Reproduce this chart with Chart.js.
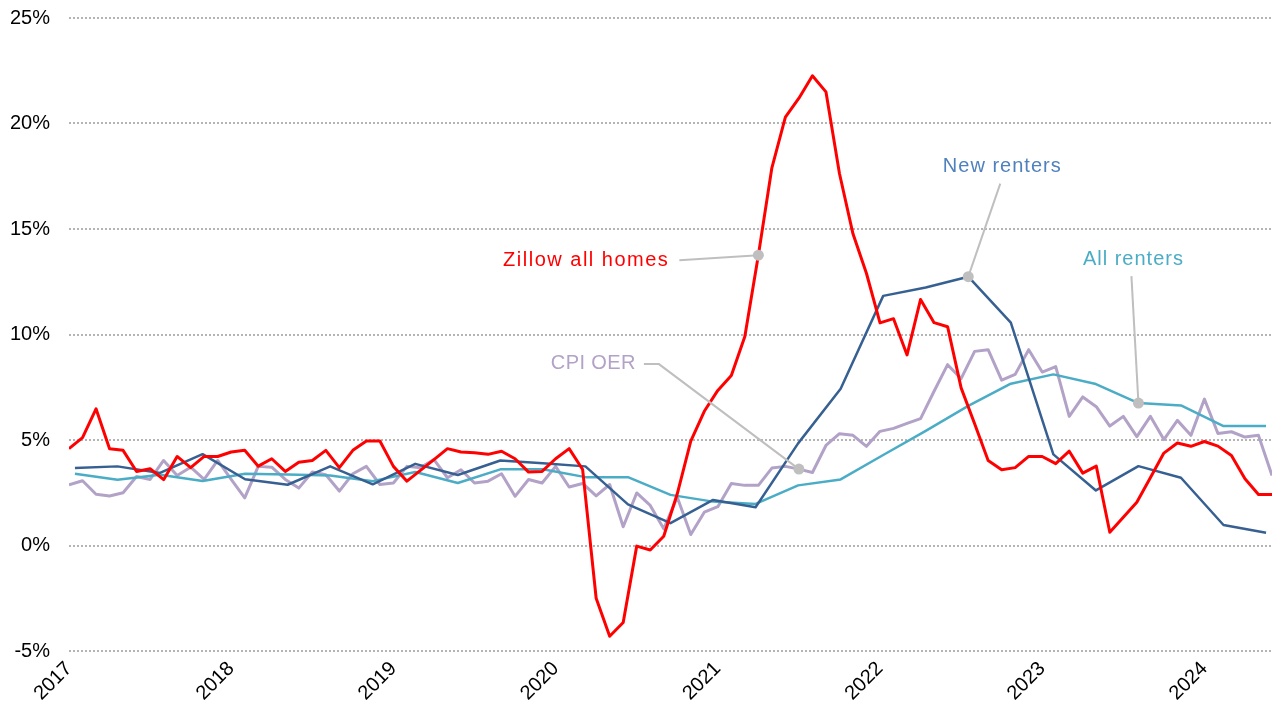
<!DOCTYPE html>
<html>
<head>
<meta charset="utf-8">
<title>Rent inflation</title>
<script src="https://cdn.jsdelivr.net/npm/chart.js@4.4.1/dist/chart.umd.min.js"></script>
<style>
  html, body { margin: 0; padding: 0; background: #fff; }
  canvas { display: block; }
</style>
</head>
<body>
<canvas id="rent-chart" width="1276" height="709"></canvas>
<script>
// Year labels on the month axis (month 0 = Jan 2017)
const yearLabels = ['2017', '2018', '2019', '2020', '2021', '2022', '2023', '2024'];

// Monthly series, Jan 2017 onward (% change)
const zillowAllHomes = [
  4.59, 5.11, 6.48, 4.59, 4.51, 3.51, 3.64, 3.12, 4.22, 3.69, 4.22, 4.22,
  4.43, 4.51, 3.76, 4.11, 3.51, 3.95, 4.03, 4.51, 3.69, 4.51, 4.95, 4.95,
  3.75, 3.05, 3.56, 4.07, 4.59, 4.43, 4.40, 4.32, 4.47, 4.11, 3.48, 3.51,
  4.11, 4.59, 3.60, -2.50, -4.30, -3.65, -0.03, -0.21, 0.44, 2.45, 4.95, 6.36,
  7.35, 8.06, 9.91, 13.76, 17.90, 20.30, 21.20, 22.26, 21.50, 17.63, 14.77, 12.89,
  10.55, 10.75, 9.03, 11.66, 10.56, 10.37, 7.47, 5.77, 4.03, 3.59, 3.69, 4.22,
  4.22, 3.88, 4.47, 3.43, 3.76, 0.63, 1.34, 2.05, 3.21, 4.38, 4.86, 4.70,
  4.93, 4.71, 4.27, 3.16, 2.42, 2.42
];

const cpiOer = [
  2.87, 3.07, 2.43, 2.35, 2.50, 3.27, 3.13, 4.03, 3.32, 3.71, 3.13, 4.03,
  3.13, 2.26, 3.75, 3.71, 3.13, 2.72, 3.48, 3.35, 2.58, 3.40, 3.75, 2.89,
  2.96, 3.75, 3.69, 4.07, 3.21, 3.59, 2.96, 3.05, 3.40, 2.33, 3.13, 2.96,
  3.75, 2.77, 2.94, 2.35, 2.89, 0.89, 2.49, 1.90, 0.79, 2.29, 0.52, 1.58,
  1.84, 2.94, 2.85, 2.85, 3.67, 3.75, 3.62, 3.46, 4.74, 5.30, 5.22, 4.70,
  5.41, 5.55, 5.79, 6.01, 7.31, 8.57, 7.91, 9.20, 9.28, 7.84, 8.11, 9.28,
  8.22, 8.48, 6.12, 7.04, 6.58, 5.66, 6.12, 5.16, 6.12, 5.02, 5.93, 5.22,
  6.94, 5.31, 5.39, 5.14, 5.22, 3.32
];

// Quarterly series, Q1 2017 onward (% change)
const newRenters = [
  3.67, 3.75, 3.44, 4.33, 3.14, 2.88, 3.75, 2.90, 3.87, 3.34, 4.03, 3.90,
  3.75, 1.95, 1.06, 2.16, 1.81, 4.84, 7.43, 11.83, 12.23, 12.74, 10.56, 4.32,
  2.61, 3.76, 3.21, 0.97, 0.60
];

const allRenters = [
  3.40, 3.12, 3.35, 3.06, 3.40, 3.37, 3.32, 3.05, 3.48, 2.96, 3.61, 3.61,
  3.24, 3.24, 2.40, 2.08, 1.97, 2.85, 3.13, 4.29, 5.43, 6.62, 7.67, 8.11,
  7.65, 6.75, 6.64, 5.66, 5.66
];

const colors = {
  zillow: '#FF0000',
  cpi: '#B3A2C7',
  newRenters: '#376092',
  newRentersText: '#4F81BD',
  allRenters: '#4BACC6',
  leader: '#BFBFBF',
  grid: '#B4B4B4',
  text: '#000000'
};

const fontFamily = "'Liberation Sans', Arial, sans-serif";

// Quarterly points sit on their own axis, stretched across the plot
const quarterInset = 0.14;

const toPoints = arr => arr.map((v, i) => ({ x: i, y: v }));

// Callout labels: anchored to a data point, label and leader offsets in px
const callouts = [
  { dataset: 0, index: 51, text: 'Zillow all homes', color: colors.zillow, spacing: 1.5,
    label: [-89, 5], align: 'right', leader: [[-79, 5], [0, 0]] },
  { dataset: 3, index: 54, text: 'CPI OER', color: colors.cpi, spacing: 0.4,
    label: [-163, -106], align: 'right', leader: [[-155, -105], [-140, -105], [0, 0]] },
  { dataset: 1, index: 21, text: 'New renters', color: colors.newRentersText, spacing: 1,
    label: [34, -110], align: 'center', leader: [[32, -93], [0, 0]] },
  { dataset: 2, index: 25, text: 'All renters', color: colors.allRenters, spacing: 1,
    label: [-5, -144], align: 'center', leader: [[-7, -127], [0, 0]] }
];

const calloutPlugin = {
  id: 'callouts',
  afterDatasetsDraw(chart) {
    const ctx = chart.ctx;
    callouts.forEach(c => {
      const pt = chart.getDatasetMeta(c.dataset).data[c.index];
      const px = pt.x;
      const py = pt.y;

      ctx.save();
      ctx.strokeStyle = colors.leader;
      ctx.lineWidth = 2;
      ctx.beginPath();
      c.leader.forEach(([dx, dy], k) => {
        if (k === 0) ctx.moveTo(px + dx, py + dy);
        else ctx.lineTo(px + dx, py + dy);
      });
      ctx.stroke();

      ctx.fillStyle = colors.leader;
      ctx.beginPath();
      ctx.arc(px, py, 5.5, 0, Math.PI * 2);
      ctx.fill();

      ctx.font = `20px ${fontFamily}`;
      ctx.letterSpacing = c.spacing + 'px';
      ctx.fillStyle = c.color;
      ctx.textAlign = c.align;
      ctx.textBaseline = 'middle';
      ctx.fillText(c.text, px + c.label[0], py + c.label[1]);
      ctx.restore();
    });
  }
};

const lineStyle = {
  fill: false,
  pointRadius: 0,
  pointHoverRadius: 0,
  tension: 0,
  borderJoinStyle: 'round'
};

new Chart(document.getElementById('rent-chart'), {
  type: 'line',
  data: {
    datasets: [
      { ...lineStyle, label: 'Zillow all homes', data: toPoints(zillowAllHomes),
        borderColor: colors.zillow, borderWidth: 3, xAxisID: 'x' },
      { ...lineStyle, label: 'New renters', data: toPoints(newRenters),
        borderColor: colors.newRenters, borderWidth: 2.5, xAxisID: 'xq' },
      { ...lineStyle, label: 'All renters', data: toPoints(allRenters),
        borderColor: colors.allRenters, borderWidth: 2.5, xAxisID: 'xq' },
      { ...lineStyle, label: 'CPI OER', data: toPoints(cpiOer),
        borderColor: colors.cpi, borderWidth: 3, xAxisID: 'x' }
    ]
  },
  options: {
    responsive: false,
    animation: false,
    devicePixelRatio: 1,
    layout: { padding: { top: 18, right: 4, bottom: 0, left: 0 } },
    plugins: {
      legend: { display: false },
      tooltip: { enabled: false }
    },
    scales: {
      x: {
        type: 'linear',
        min: 0,
        max: zillowAllHomes.length - 1,
        afterBuildTicks: axis => {
          axis.ticks = yearLabels.map((_, i) => ({ value: i * 12 }));
        },
        afterFit: axis => { axis.height = 58; },
        grid: { display: false, drawTicks: false },
        border: { display: false },
        ticks: {
          autoSkip: false,
          minRotation: 45,
          maxRotation: 45,
          padding: 6,
          color: colors.text,
          font: { family: fontFamily, size: 20 },
          callback: value => yearLabels[Math.round(value / 12)]
        }
      },
      xq: {
        type: 'linear',
        display: false,
        min: -quarterInset,
        max: newRenters.length - 1 + quarterInset
      },
      y: {
        min: -5,
        max: 25,
        // fixed gutter for the % labels; top/bottom padding comes from the layout
        afterFit: axis => {
          axis.width = 69;
          axis.paddingTop = 0;
          axis.paddingBottom = 0;
        },
        grid: {
          color: colors.grid,
          lineWidth: 2,
          drawTicks: false
        },
        border: { display: false, dash: [2, 2] },
        ticks: {
          stepSize: 5,
          padding: 19,
          color: colors.text,
          font: { family: fontFamily, size: 20 },
          callback: value => value + '%'
        }
      }
    }
  },
  plugins: [calloutPlugin]
});
</script>
</body>
</html>
